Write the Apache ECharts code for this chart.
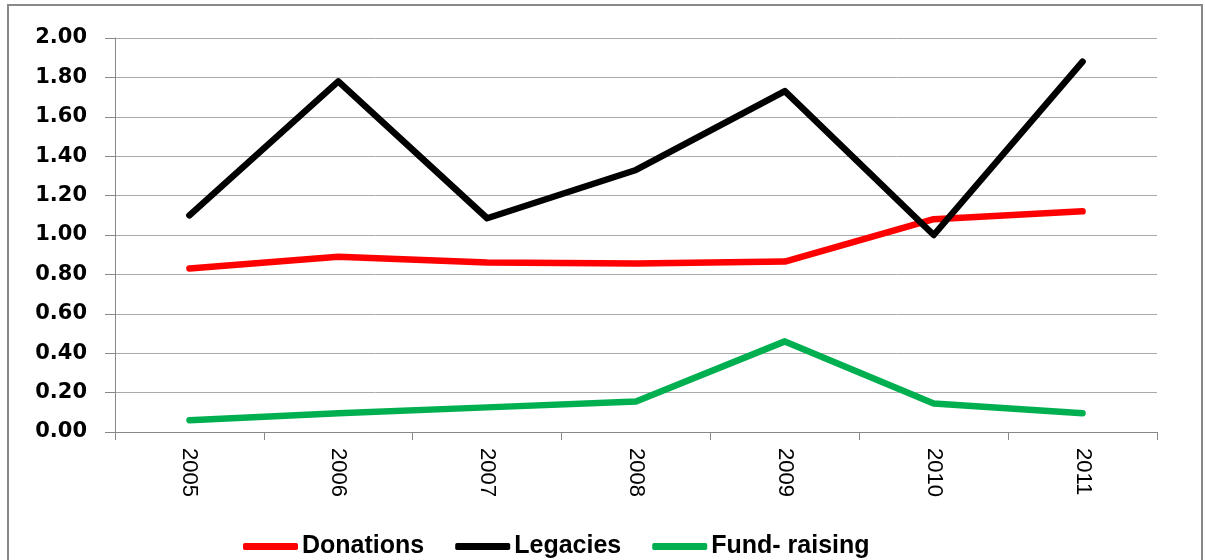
<!DOCTYPE html>
<html>
<head>
<meta charset="utf-8">
<script src="https://cdn.jsdelivr.net/npm/echarts@6/dist/echarts.min.js"></script>
<style>html,body{margin:0;padding:0;background:#fff;}#c{width:1205px;height:560px;}</style>
</head>
<body>
<div id="c"></div>
<script>
const categories = ['2005','2006','2007','2008','2009','2010','2011'];
const donations = [0.83, 0.89, 0.86, 0.855, 0.865, 1.08, 1.12];
const legacies = [1.10, 1.78, 1.085, 1.33, 1.73, 1.00, 1.88];
const fundRaising = [0.06, 0.095, 0.125, 0.155, 0.46, 0.145, 0.095];
const seriesNames = ['Donations', 'Legacies', 'Fund- raising'];
const seriesColors = ['#FF0000', '#000000', '#00B050'];

const chart = echarts.init(document.getElementById('c'));
const allData = [donations, legacies, fundRaising];
chart.setOption({
  animation: false,
  graphic: [{
    type: 'rect', shape: { x: 8, y: 5, width: 1194, height: 620 },
    style: { fill: 'none', stroke: '#888', lineWidth: 2 }, silent: true
  }],
  grid: { left: 115, right: 48, top: 38, bottom: 128, containLabel: false },
  legend: {
    top: 529, left: 238,
    itemWidth: 55, itemHeight: 7, itemGap: 31,
    icon: 'roundRect',
    textStyle: { fontFamily: 'Liberation Sans', fontWeight: 'bold', fontSize: 25, color: '#000', padding: [0, 0, 0, -1] },
    data: seriesNames
  },
  xAxis: {
    type: 'category', data: categories, boundaryGap: true,
    axisLine: { lineStyle: { color: '#888', width: 1 } },
    axisTick: { show: true, length: 8, lineStyle: { color: '#888' } },
    axisLabel: { rotate: -90, margin: 16, fontFamily: 'Liberation Sans', fontSize: 22, color: '#000' },
    splitLine: { show: false }
  },
  yAxis: {
    type: 'value', min: 0, max: 2, interval: 0.2,
    axisLine: { show: true, lineStyle: { color: '#888', width: 1 } },
    axisTick: { show: true, length: 10, lineStyle: { color: '#888' } },
    axisLabel: { margin: 28, fontFamily: 'DejaVu Sans', fontWeight: 'bold', fontSize: 21, color: '#000',
      formatter: v => v.toFixed(2) },
    splitLine: { show: true, lineStyle: { color: '#aaa', width: 1 } }
  },
  series: seriesNames.map((n, i) => ({
    name: n, type: 'line', data: allData[i], showSymbol: false, symbol: 'none',
    lineStyle: { color: seriesColors[i], width: 6.5, cap: 'round', join: 'round' },
    itemStyle: { color: seriesColors[i] }
  }))
});
</script>
</body>
</html>
